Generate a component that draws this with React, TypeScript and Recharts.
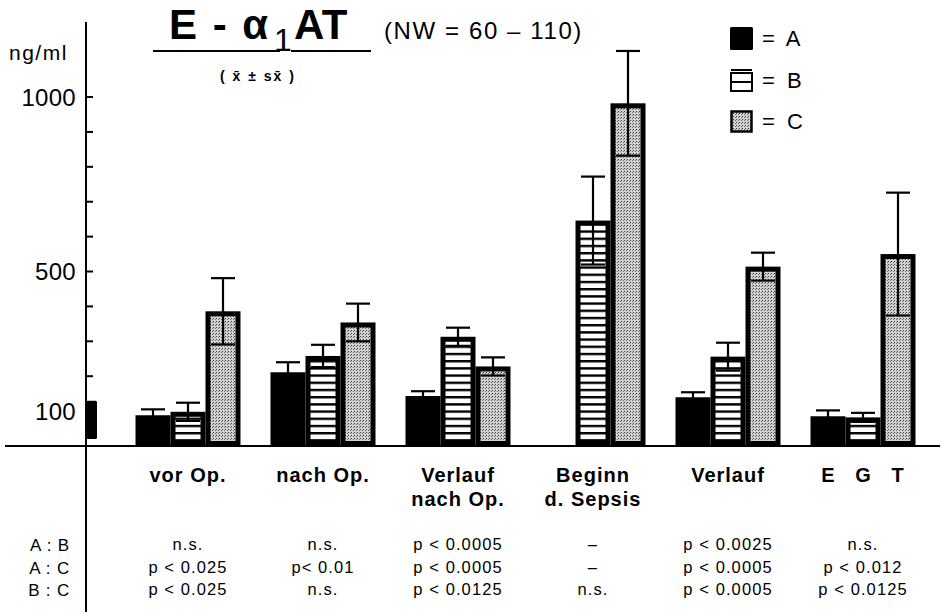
import { BarChart, Bar, XAxis, YAxis, ErrorBar, ReferenceArea } from "recharts";

// categories (\n = line break in the axis label)
const categories = ["vor Op.", "nach Op.", "Verlauf\nnach Op.", "Beginn\nd. Sepsis", "Verlauf", "E\u00a0\u00a0\u00a0G\u00a0\u00a0\u00a0T"];

// mean values (ng/ml) and standard error
const valuesA = [88, 211, 143, null, 140, 85];
const errA = [17, 29, 14, null, 14, 17];
const valuesB = [98, 258, 313, 646, 256, 82];
const errB = [26, 32, 26, 126, 40, 13];
const valuesC = [386, 354, 228, 982, 514, 550];
const errC = [95, 54, 26, 150, 40, 176];

// significance table below the axis
const rowLabels = ["A : B", "A : C", "B : C"];
const pAB = ["n.s.", "n.s.", "p < 0.0005", "–", "p < 0.0025", "n.s."];
const pAC = ["p < 0.025", "p< 0.01", "p < 0.0005", "–", "p < 0.0005", "p < 0.012"];
const pBC = ["p < 0.025", "n.s.", "p < 0.0125", "n.s.", "p < 0.0005", "p < 0.0125"];

const yTicks = [100, 200, 300, 400, 500, 600, 700, 800, 900, 1000];
const yLabels = [100, 500, 1000];
const yMax = 1215;

// normal range marker next to the axis
const normalRange = [20, 130];

const FONT = "'Liberation Sans', Arial, sans-serif";
const X_PAD_LEFT = 34.5;

const data = categories.map((name, i) => ({
    name,
    A: valuesA[i],
    errA: errA[i],
    B: valuesB[i],
    errB: errB[i],
    C: valuesC[i],
    errC: errC[i],
}));

const outlinedBar = (fill: string) => (props: any) => {
    const { x, y, width, height } = props;
    if (!height || height <= 0) return null;
    const sw = 5;
    return (
        <rect
            x={x + sw / 2}
            y={y + sw / 2}
            width={Math.max(width - sw, 0)}
            height={Math.max(height - sw, 0)}
            fill={fill}
            stroke="#000"
            strokeWidth={sw}
        />
    );
};

// narrow block hugging the y axis (area starts after the axis padding)
const NormalRangeShape = (props: any) => {
    const { x, y, height } = props;
    return <rect x={x - X_PAD_LEFT} y={y} width={11} height={height} rx={1.5} fill="#000" />;
};

function YTick(props: any) {
    const { x, y, payload } = props;
    const v = payload.value;
    return (
        <g>
            <line x1={x} x2={x + 7} y1={y} y2={y} stroke="#000" strokeWidth={2} />
            {yLabels.includes(v) && (
                <text x={x - 10} y={y + 8.5} textAnchor="end" fontSize={24} fontFamily={FONT} fill="#000" letterSpacing={0.3}>
                    {v}
                </text>
            )}
        </g>
    );
}

function XTick(props: any) {
    const { x, y, payload, index } = props;
    const lines = String(payload.value).split("\n");
    const i = index ?? payload.index;
    const rows = [pAB[i], pAC[i], pBC[i]];
    return (
        <g fontFamily={FONT} fill="#000">
            {lines.map((l, k) => (
                <text key={k} x={x} y={y + 36 + k * 24} textAnchor="middle" fontSize={20} fontWeight="bold" letterSpacing={1}>
                    {l}
                </text>
            ))}
            {rows.map((r, k) => (
                <text key={"p" + k} x={x} y={y + 104 + k * 22.5} textAnchor="middle" fontSize={16.5} letterSpacing={1.1}>
                    {r}
                </text>
            ))}
        </g>
    );
}

function Patterns({ prefix }: { prefix: string }) {
    return (
        <defs>
            <pattern id={prefix + "stripes"} patternUnits="userSpaceOnUse" width={10} height={7.2}>
                <rect width={10} height={7.2} fill="#fff" />
                <rect width={10} height={2.4} fill="#000" />
            </pattern>
            <pattern id={prefix + "dots"} patternUnits="userSpaceOnUse" width={3} height={3}>
                <rect width={3} height={3} fill="#d2d2d2" />
                <rect width={1} height={1} fill="#3a3a3a" />
                <rect x={2} y={1} width={1} height={1} fill="#6a6a6a" />
            </pattern>
        </defs>
    );
}

function LegendBox({ kind }: { kind: "A" | "B" | "C" }) {
    return (
        <svg width={23} height={23} style={{ display: "block" }}>
            <Patterns prefix="lg" />
            {kind === "A" && <rect x={0} y={0} width={23} height={23} rx={1.5} fill="#000" />}
            {kind === "B" && (
                <g>
                    <rect x={1} y={4} width={21} height={18} fill="#fff" stroke="#000" strokeWidth={2} />
                    <line x1={1} x2={22} y1={1} y2={1} stroke="#000" strokeWidth={2} />
                    <line x1={1} x2={22} y1={13} y2={13} stroke="#000" strokeWidth={2} />
                </g>
            )}
            {kind === "C" && <rect x={1.5} y={1.5} width={20} height={20} fill="url(#lgdots)" stroke="#000" strokeWidth={2.5} />}
        </svg>
    );
}

export default function App() {
    const legendItems: ("A" | "B" | "C")[] = ["A", "B", "C"];
    return (
        <div style={{ position: "absolute", left: 0, top: 0, width: 944, height: 616, background: "#fff", fontFamily: FONT, color: "#000" }}>
            <BarChart
                width={944}
                height={616}
                data={data}
                margin={{ top: 22, right: 4, bottom: 0, left: 0 }}
                barGap={0}
                barSize={35}
            >
                <Patterns prefix="" />
                <XAxis
                    dataKey="name"
                    interval={0}
                    height={170}
                    padding={{ left: X_PAD_LEFT, right: 9.5 }}
                    tickSize={0}
                    tickMargin={0}
                    tickLine={false}
                    axisLine={{ stroke: "#000", strokeWidth: 2 }}
                    tick={<XTick />}
                />
                <YAxis
                    width={86}
                    domain={[0, yMax]}
                    ticks={yTicks}
                    interval={0}
                    tickSize={0}
                    tickMargin={0}
                    tickLine={false}
                    axisLine={{ stroke: "#000", strokeWidth: 2 }}
                    tick={<YTick />}
                />
                <ReferenceArea y1={normalRange[0]} y2={normalRange[1]} shape={<NormalRangeShape />} />
                <Bar dataKey="A" fill="#000" isAnimationActive={false}>
                    <ErrorBar dataKey="errA" width={12} strokeWidth={2.2} stroke="#000" isAnimationActive={false} />
                </Bar>
                <Bar dataKey="B" shape={outlinedBar("url(#stripes)")} isAnimationActive={false}>
                    <ErrorBar dataKey="errB" width={12} strokeWidth={2.2} stroke="#000" isAnimationActive={false} />
                </Bar>
                <Bar dataKey="C" shape={outlinedBar("url(#dots)")} isAnimationActive={false}>
                    <ErrorBar dataKey="errC" width={12} strokeWidth={2.2} stroke="#000" isAnimationActive={false} />
                </Bar>
            </BarChart>

            {/* axis line extensions */}
            <div style={{ position: "absolute", left: 5, top: 445, width: 82, height: 2, background: "#000" }} />
            <div style={{ position: "absolute", left: 85, top: 446, width: 2, height: 166, background: "#000" }} />

            {/* unit */}
            <div style={{ position: "absolute", left: 9, top: 41, fontSize: 21, lineHeight: "24px", letterSpacing: 1.5 }}>ng/ml</div>

            {/* title */}
            <div style={{ position: "absolute", left: 169, top: 4, fontSize: 42, lineHeight: "42px", fontWeight: "bold", letterSpacing: 2, whiteSpace: "pre" }}>E - α</div>
            <div style={{ position: "absolute", left: 274, top: 24, fontSize: 32, lineHeight: "32px", whiteSpace: "pre" }}>1</div>
            <div style={{ position: "absolute", left: 294, top: 4, fontSize: 42, lineHeight: "42px", fontWeight: "bold", letterSpacing: 0.5 }}>AT</div>
            <div style={{ position: "absolute", left: 153, top: 50, width: 127, height: 2, background: "#000" }} />
            <div style={{ position: "absolute", left: 291, top: 50, width: 80, height: 2, background: "#000" }} />
            <div style={{ position: "absolute", left: 384, top: 18, fontSize: 24, lineHeight: "26px", letterSpacing: 1.6, whiteSpace: "pre" }}>(NW = 60 – 110)</div>
            <div style={{ position: "absolute", left: 220, top: 68, fontSize: 14, lineHeight: "16px", fontWeight: "bold", letterSpacing: 2, whiteSpace: "pre" }}>( x̄ ± sx̄ )</div>

            {/* legend */}
            {legendItems.map((k, i) => (
                <div key={k} style={{ position: "absolute", left: 730, top: 27 + i * 41.5, display: "flex", alignItems: "center", gap: 9 }}>
                    <LegendBox kind={k} />
                    <span style={{ fontSize: 22, lineHeight: "23px", whiteSpace: "pre" }}>=  {k}</span>
                </div>
            ))}

            {/* significance row labels */}
            {rowLabels.map((r, i) => (
                <div key={r} style={{ position: "absolute", right: 944 - 70, top: 537 + i * 22.5, fontSize: 17, lineHeight: "18px", letterSpacing: 0.8, whiteSpace: "pre" }}>
                    {r}
                </div>
            ))}
        </div>
    );
}
